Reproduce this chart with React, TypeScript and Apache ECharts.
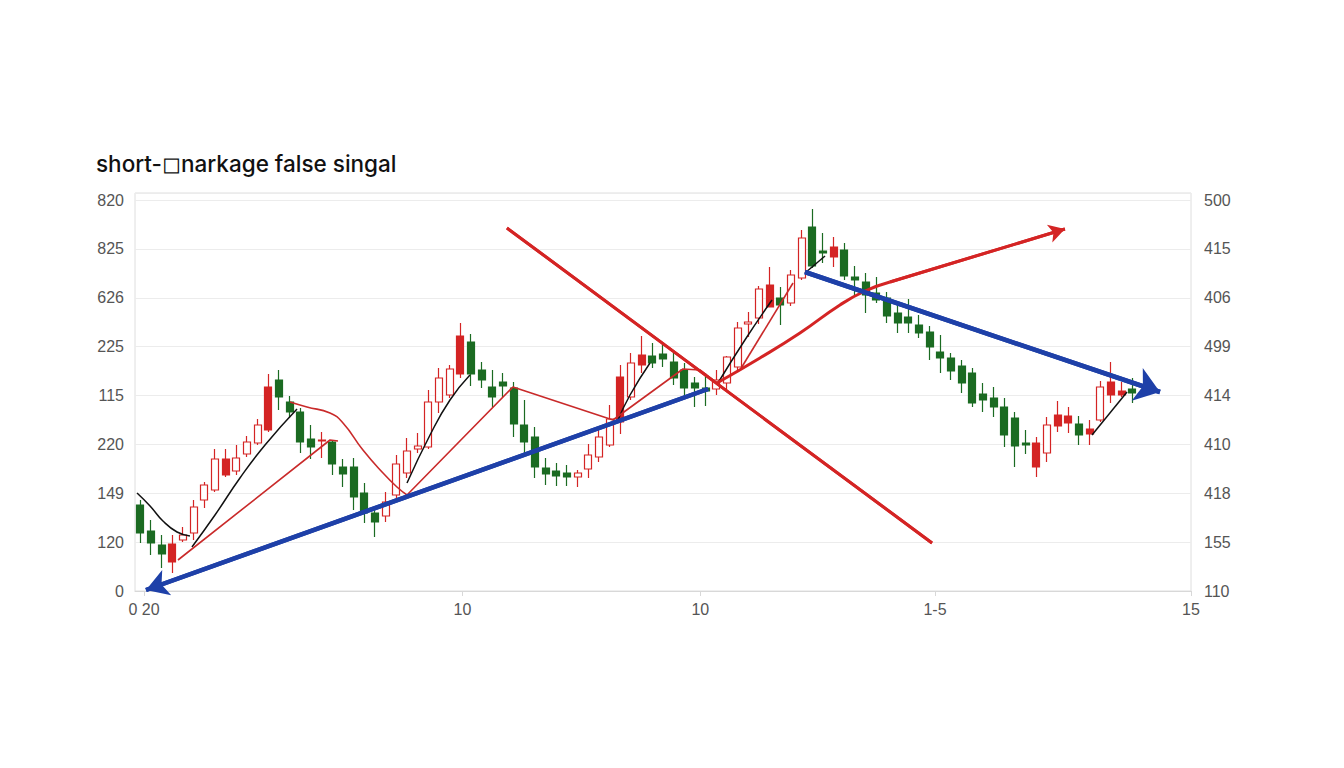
import React, { useEffect, useRef } from 'react';
import * as echarts from 'echarts';

const TITLE = 'short-◻narkage false singal';

// candles: [open, close, lowest, highest]
const candles: number[][] = [
  [86, 58, 48, 91], [60, 48, 36, 71], [46, 37, 23, 56], [29, 47, 18, 56], [51, 56, 49, 64],
  [58, 84, 51, 91], [91, 106, 83, 109], [101, 132, 99, 142], [116, 132, 114, 142], [120, 133, 116, 146],
  [137, 149, 134, 155], [148, 166, 146, 172], [161, 204, 159, 217], [211, 194, 181, 221], [189, 179, 173, 195],
  [179, 149, 138, 183], [152, 144, 132, 166], [150, 151, 133, 159], [149, 127, 116, 151], [124, 117, 104, 132],
  [124, 94, 81, 133], [98, 78, 68, 108], [78, 69, 54, 81], [75, 89, 69, 99], [96, 127, 91, 136],
  [118, 140, 113, 153], [142, 145, 138, 158], [144, 189, 142, 201], [189, 213, 178, 223], [196, 222, 193, 226],
  [217, 255, 213, 268], [249, 217, 205, 257], [221, 211, 203, 229], [204, 194, 184, 221], [209, 205, 194, 218],
  [203, 167, 154, 209], [166, 149, 136, 191], [154, 124, 113, 164], [123, 117, 106, 133], [120, 115, 105, 128],
  [118, 114, 105, 126], [114, 118, 104, 121], [122, 136, 113, 147], [134, 154, 129, 164], [146, 172, 144, 186],
  [169, 214, 157, 226], [194, 228, 191, 238], [226, 236, 218, 255], [235, 228, 223, 248], [237, 232, 224, 247],
  [229, 213, 206, 238], [221, 203, 194, 228], [208, 203, 184, 214], [203, 200, 185, 218], [202, 211, 196, 221],
  [208, 234, 201, 235], [224, 263, 221, 269], [267, 269, 254, 279], [273, 302, 267, 305], [284, 306, 284, 324],
  [293, 286, 266, 304], [288, 316, 285, 321], [313, 353, 311, 361], [364, 325, 323, 382], [340, 338, 328, 358],
  [334, 344, 324, 354], [341, 315, 311, 348], [314, 311, 294, 325], [309, 296, 278, 318], [298, 291, 288, 314],
  [293, 275, 268, 299], [278, 268, 258, 288], [274, 268, 258, 292], [266, 258, 253, 276], [259, 244, 231, 265],
  [239, 233, 218, 256], [233, 220, 211, 238], [225, 208, 198, 231], [218, 188, 184, 223], [197, 191, 179, 208],
  [193, 184, 174, 204], [184, 156, 144, 193], [173, 145, 124, 179], [148, 146, 137, 161], [124, 148, 114, 154],
  [138, 166, 129, 174], [165, 176, 159, 190], [168, 175, 158, 184], [167, 156, 146, 175], [157, 162, 146, 171],
  [171, 204, 169, 210], [196, 209, 188, 229], [196, 200, 194, 209], [202, 198, 188, 213],
];
// candles drawn with a solid red body
const solidRed = [3, 8, 12, 17, 30, 45, 47, 59, 65, 84, 86, 87, 89, 91, 92];
const sessionCount = 99;

// y tick labels, bottom to top
const leftTickLabels = ['0', '120', '149', '220', '115', '225', '626', '825', '820'];
const rightTickLabels = ['110', '155', '418', '410', '414', '499', '406', '415', '500'];
const yStep = 48.875;
const yMax = 398;

const xTickValues = [0.34, 30.2, 52.5, 74.5, 98.5];
const xTickLabels = ['0 20', '10', '10', '1-5', '15'];

// overlay lines: [session index, price]
const blueLower = [[0.53, 1], [53.22, 202]];
const blueUpper = [[62.31, 319], [95.59, 199]];
const redDown = [[34.37, 363], [74.22, 48]];
const redCurve = [[54.06, 208], [58.09, 233], [61.84, 258], [65.59, 286], [67.94, 300], [70.28, 309]];
const redArrow = [[70.28, 309], [86.68, 362]];

const blackLines = [
  [[-0.31, 98], [0.91, 85], [2.12, 70], [3.44, 59], [4.65, 55]],
  [[4.84, 44], [7.0, 76], [9.34, 113], [11.69, 146], [14.69, 182]],
  [[25.0, 108], [27.16, 156], [29.03, 191], [30.9, 216]],
  [[44.69, 169], [45.91, 196], [47.78, 228]],
  [[54.15, 208], [56.68, 251], [59.22, 291]],
  [[62.31, 318], [64.19, 335]],
  [[89.22, 156], [92.5, 199]],
];
const thinRedSmooth = [
  [[14.03, 189], [15.62, 184], [17.78, 178], [19.0, 168], [20.87, 141], [22.75, 118], [24.06, 104], [25.0, 96]],
];
const thinRedStraight = [
  [[3.53, 31], [17.78, 151], [18.53, 150]],
  [[25.0, 96], [34.93, 204], [44.31, 171], [50.87, 222], [52.47, 221], [54.06, 208]],
  [[56.22, 221], [61.19, 308]],
];

const RED = '#d42424';
const GREEN = '#1b6b22';
const BLUE = '#1e40a8';
const THIN_RED = '#c92a2a';
const FONT = "'Liberation Sans', Arial, sans-serif";

export default function App() {
  const ref = useRef<HTMLDivElement>(null);
  useEffect(() => {
    if (!ref.current) return;
    const chart = echarts.init(ref.current, undefined, { renderer: 'svg' });
    const solidSet = new Set(solidRed);
    const candleData = candles.map((c, i) =>
      solidSet.has(i) ? { value: c, itemStyle: { color: RED, borderColor: RED } } : c
    );
    const categories = Array.from({ length: sessionCount }, (_, i) => String(i));

    const yFmt = (labels: string[]) => (v: number) => {
      const k = Math.round(v / yStep);
      return Math.abs(v - k * yStep) < 0.05 && labels[k] !== undefined ? labels[k] : '';
    };

    const thin = (data: number[][], color: string, smooth: boolean, width = 1.6) => ({
      type: 'line',
      xAxisIndex: 1,
      yAxisIndex: 0,
      data,
      smooth,
      showSymbol: false,
      symbol: 'none',
      silent: true,
      lineStyle: { color, width },
      z: 3,
    });

    const thick = (data: number[][], color: string, width: number, symbol: string[], size: number[]) => ({
      type: 'line',
      xAxisIndex: 1,
      yAxisIndex: 0,
      data,
      showSymbol: false,
      symbol: 'none',
      silent: true,
      lineStyle: { color, width },
      z: 4,
      markLine: {
        silent: true,
        animation: false,
        symbol,
        symbolSize: size,
        label: { show: false },
        lineStyle: { color, width, type: 'solid' },
        emphasis: { disabled: true },
        data: [[{ coord: data[0] }, { coord: data[data.length - 1] }]],
      },
    });

    chart.setOption({
      animation: false,
      backgroundColor: '#ffffff',
      title: {
        text: TITLE,
        left: 91,
        top: 147,
        textStyle: { fontFamily: 'Inter, sans-serif', fontSize: 22.5, fontWeight: 500, color: '#111' },
      },
      grid: {
        left: 135,
        right: 153,
        top: 193,
        bottom: 177,
        show: true,
        borderColor: '#dedede',
        borderWidth: 1,
      },
      xAxis: [
        { type: 'category', data: categories, show: false, position: 'bottom', boundaryGap: true },
        {
          type: 'value',
          position: 'bottom',
          min: -0.5,
          max: 98.5,
          splitLine: { show: false },
          axisLine: { show: true, lineStyle: { color: '#d8d8d8' } },
          axisTick: { show: true, customValues: xTickValues, length: 5, lineStyle: { color: '#d8d8d8' } },
          axisLabel: {
            customValues: xTickValues,
            showMinLabel: true,
            showMaxLabel: true,
            margin: 10,
            color: '#555',
            fontSize: 16,
            fontFamily: FONT,
            formatter: (v: number) => {
              const i = xTickValues.findIndex((t) => Math.abs(t - v) < 1e-6);
              return i >= 0 ? xTickLabels[i] : '';
            },
          },
        },
      ],
      yAxis: [
        {
          type: 'value',
          position: 'left',
          min: 0,
          max: yMax,
          interval: yStep,
          axisLine: { show: false },
          axisTick: { show: false },
          splitLine: { show: true, lineStyle: { color: '#ececec', width: 1 } },
          axisLabel: { margin: 11, color: '#555', fontSize: 16, fontFamily: FONT, formatter: yFmt(leftTickLabels) },
        },
        {
          type: 'value',
          position: 'right',
          min: 0,
          max: yMax,
          interval: yStep,
          axisLine: { show: false },
          axisTick: { show: false },
          splitLine: { show: false },
          axisLabel: { margin: 13, color: '#555', fontSize: 16, fontFamily: FONT, formatter: yFmt(rightTickLabels) },
        },
      ],
      series: [
        {
          type: 'candlestick',
          xAxisIndex: 0,
          yAxisIndex: 0,
          data: candleData,
          barWidth: 7.5,
          silent: true,
          itemStyle: {
            color: '#ffffff',
            color0: GREEN,
            borderColor: RED,
            borderColor0: GREEN,
            borderWidth: 1.2,
          },
          z: 2,
        },
        ...blackLines.map((d) => thin(d, '#111111', true, 1.5)),
        ...thinRedSmooth.map((d) => thin(d, THIN_RED, true)),
        ...thinRedStraight.map((d) => thin(d, THIN_RED, false)),
        thick(redDown, RED, 3, ['none', 'none'], [1, 1]),
        thick(blueLower, BLUE, 4.5, ['arrow', 'none'], [20, 22]),
        thick(blueUpper, BLUE, 4.5, ['none', 'arrow'], [26, 24]),
        { ...thin(redCurve, RED, true, 3), z: 4 },
        thick(redArrow, RED, 3, ['none', 'arrow'], [14, 16]),
      ],
    });
    return () => chart.dispose();
  }, []);

  return (
    <div
      ref={ref}
      style={{ position: 'fixed', left: 0, top: 0, width: 1344, height: 768, background: '#fff' }}
    />
  );
}
